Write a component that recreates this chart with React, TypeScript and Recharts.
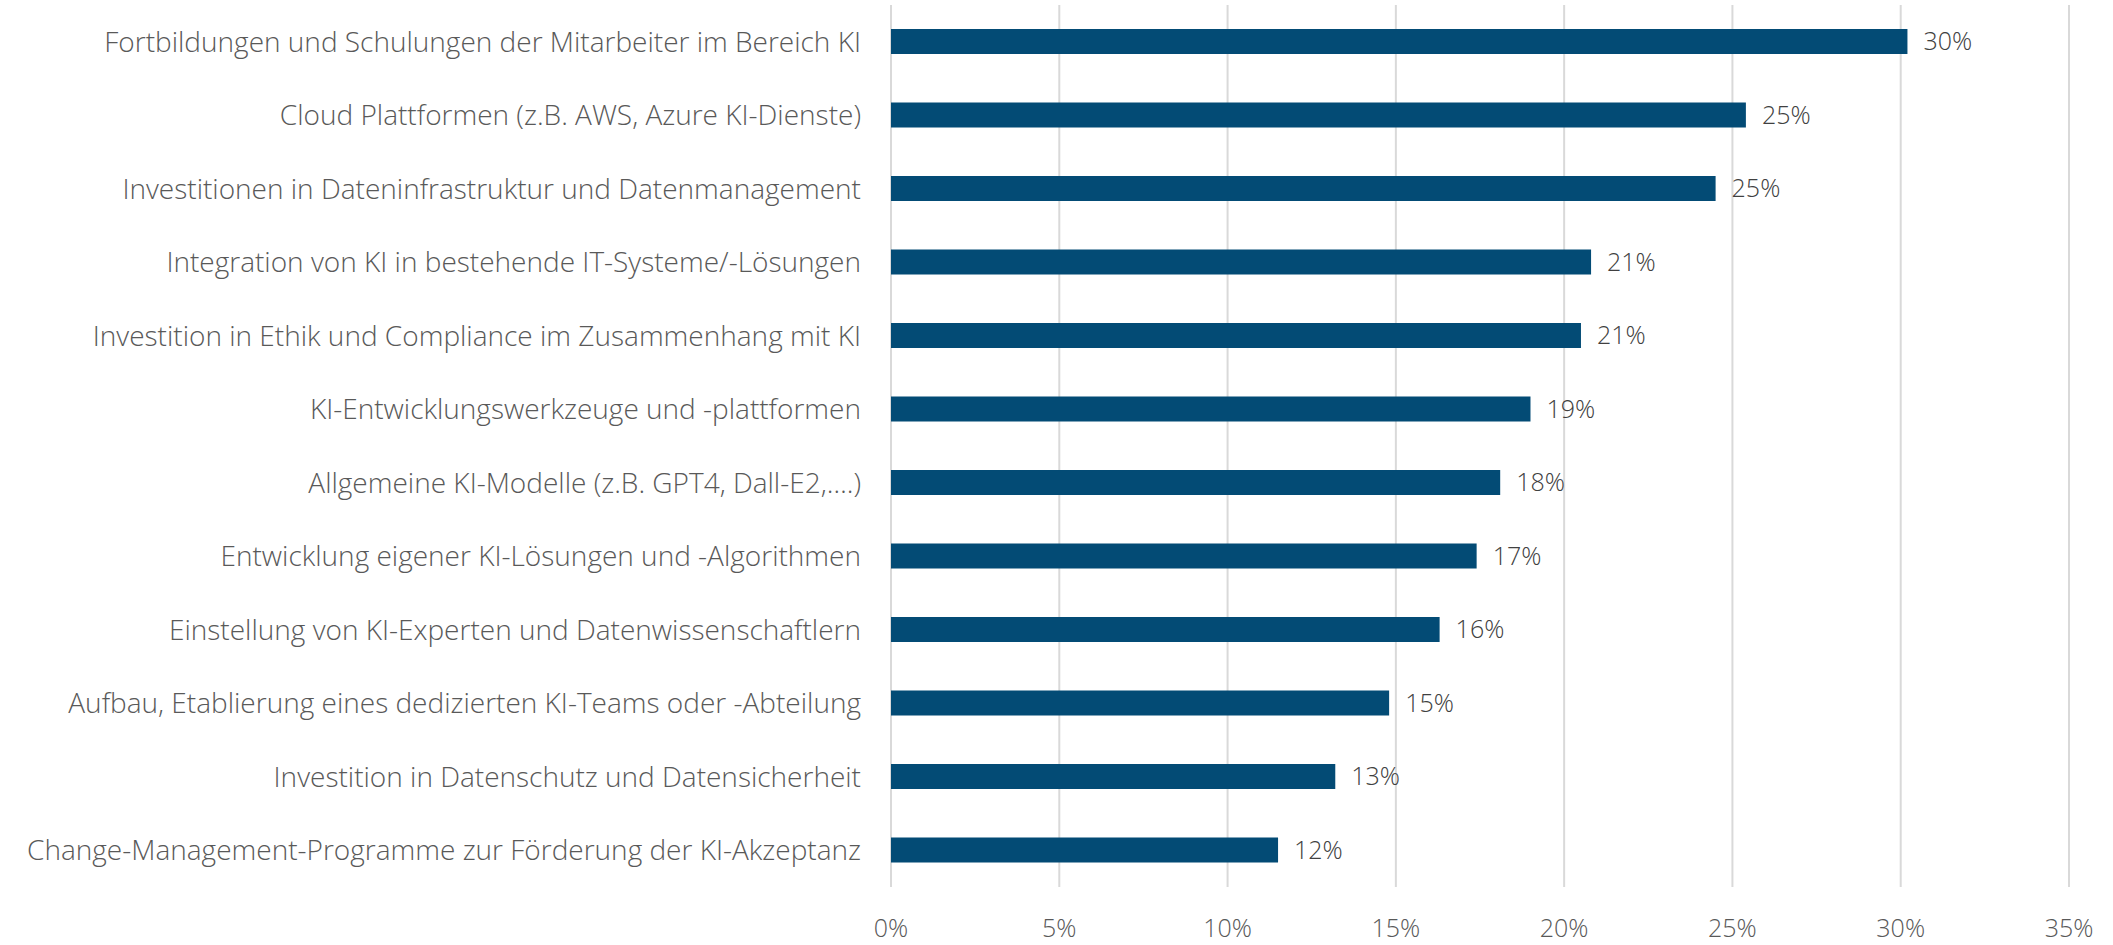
import { Bar, BarChart, CartesianGrid, LabelList, XAxis, YAxis } from "recharts";

const categories = [
  "Fortbildungen und Schulungen der Mitarbeiter im Bereich KI",
  "Cloud Plattformen (z.B. AWS, Azure KI-Dienste)",
  "Investitionen in Dateninfrastruktur und Datenmanagement",
  "Integration von KI in bestehende IT-Systeme/-Lösungen",
  "Investition in Ethik und Compliance im Zusammenhang mit KI",
  "KI-Entwicklungswerkzeuge und -plattformen",
  "Allgemeine KI-Modelle (z.B. GPT4, Dall-E2,….)",
  "Entwicklung eigener KI-Lösungen und -Algorithmen",
  "Einstellung von KI-Experten und Datenwissenschaftlern",
  "Aufbau, Etablierung eines dedizierten KI-Teams oder -Abteilung",
  "Investition in Datenschutz und Datensicherheit",
  "Change-Management-Programme zur Förderung der KI-Akzeptanz",
];

const shares = [30.2, 25.4, 24.5, 20.8, 20.5, 19.0, 18.1, 17.4, 16.3, 14.8, 13.2, 11.5];

const xTicks = [0, 5, 10, 15, 20, 25, 30, 35];

const data = categories.map((name, i) => ({ name, value: shares[i] }));

const FONT = "'Open Sans', 'Noto Sans', sans-serif";

export default function App() {
  return (
    <div style={{ position: "absolute", left: 0, top: 0, background: "#fff" }}>
      <BarChart
        width={2113}
        height={945}
        data={data}
        layout="vertical"
        margin={{ top: 5, right: 44, bottom: 8, left: 0 }}
      >
        <CartesianGrid horizontal={false} stroke="#d9d9d9" strokeWidth={2} />
        <XAxis
          type="number"
          domain={[0, 35]}
          ticks={xTicks}
          tickFormatter={(v) => `${v}%`}
          axisLine={false}
          tickLine={false}
          height={50}
          tickMargin={26}
          tick={{ fill: "#595959", fontSize: 25, fontFamily: FONT, fontWeight: 300 }}
        />
        <YAxis
          type="category"
          dataKey="name"
          width={891}
          axisLine={false}
          tickLine={false}
          tickMargin={24}
          interval={0}
          tick={{ fill: "#595959", fontSize: 28, fontFamily: FONT, fontWeight: 300 }}
        />
        <Bar dataKey="value" fill="#034b75" barSize={25} isAnimationActive={false}>
          <LabelList
            dataKey="value"
            position="right"
            offset={16}
            formatter={(v: number) => `${Math.round(v)}%`}
            style={{ fill: "#404040", fontSize: 25, fontFamily: FONT, fontWeight: 300 }}
          />
        </Bar>
      </BarChart>
    </div>
  );
}
